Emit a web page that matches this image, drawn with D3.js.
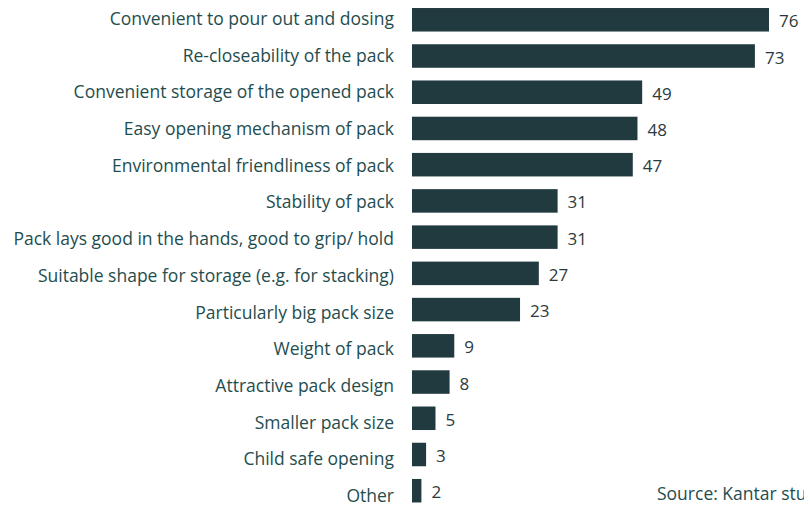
<!DOCTYPE html>
<html>
<head>
<meta charset="utf-8">
<script src="https://cdn.jsdelivr.net/npm/d3@7"></script>
<style>
  html, body { margin: 0; padding: 0; background: #ffffff; }
  svg { display: block; }
</style>
</head>
<body>
<svg id="chart" width="804" height="506"></svg>
<script>
const categories = [
  "Convenient to pour out and dosing",
  "Re-closeability of the pack",
  "Convenient storage of the opened pack",
  "Easy opening mechanism of pack",
  "Environmental friendliness of pack",
  "Stability of pack",
  "Pack lays good in the hands, good to grip/ hold",
  "Suitable shape for storage (e.g. for stacking)",
  "Particularly big pack size",
  "Weight of pack",
  "Attractive pack design",
  "Smaller pack size",
  "Child safe opening",
  "Other"
];
const values = [76, 73, 49, 48, 47, 31, 31, 27, 23, 9, 8, 5, 3, 2];
const sourceNote = "Source: Kantar study";

const svg = d3.select("#chart");
const fontFamily = "'Open Sans', 'Noto Sans', sans-serif";

// horizontal value scale
const x = d3.scaleLinear().domain([0, 76]).range([412, 769]);

// bar rows
const y = d3.scaleBand()
  .domain(categories)
  .range([4.4, 506.1])
  .paddingInner(0.351)
  .paddingOuter(0.1);

// category label baselines
const yLabel = d3.scalePoint()
  .domain(categories)
  .range([25, 502]);

// bars
svg.append("g").selectAll("rect")
  .data(values)
  .join("rect")
  .attr("x", x(0))
  .attr("y", (d, i) => y(categories[i]))
  .attr("width", d => x(d) - x(0))
  .attr("height", y.bandwidth())
  .attr("fill", "#213a3f");

// category labels
svg.append("g").selectAll("text")
  .data(categories)
  .join("text")
  .attr("x", 394)
  .attr("y", d => yLabel(d))
  .attr("text-anchor", "end")
  .attr("font-family", fontFamily)
  .attr("font-size", 17.5)
  .attr("fill", "#1f4d4e")
  .text(d => d);

// value labels
svg.append("g").selectAll("text")
  .data(values)
  .join("text")
  .attr("x", d => x(d) + 10)
  .attr("y", (d, i) => y(categories[i]) + y.bandwidth() / 2 + 7.5)
  .attr("font-family", fontFamily)
  .attr("font-size", 17)
  .attr("fill", "#2b3a3d")
  .text(d => d);

// source note
svg.append("text")
  .attr("x", 657)
  .attr("y", 500)
  .attr("font-family", fontFamily)
  .attr("font-size", 17.5)
  .attr("fill", "#1f4d4e")
  .text(sourceNote);
</script>
</body>
</html>
